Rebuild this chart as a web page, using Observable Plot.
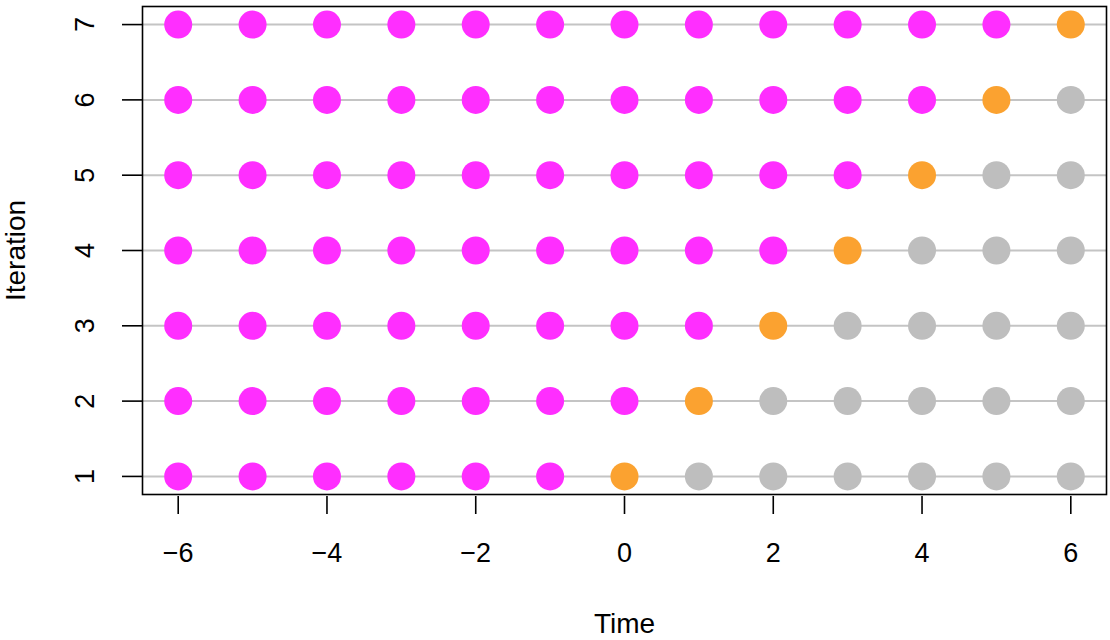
<!DOCTYPE html>
<html>
<head>
<meta charset="utf-8">
<script src="https://cdn.jsdelivr.net/npm/d3@7"></script>
<script src="https://cdn.jsdelivr.net/npm/@observablehq/plot@0.6"></script>
<style>
  html, body { margin: 0; padding: 0; background: #fff; }
  #chart svg { display: block; }
</style>
</head>
<body>
<div id="chart"></div>
<script>
// Categories
const times = [-6, -5, -4, -3, -2, -1, 0, 1, 2, 3, 4, 5, 6];
const iterations = [1, 2, 3, 4, 5, 6, 7];
const xTicks = [-6, -4, -2, 0, 2, 4, 6];
const yTicks = [1, 2, 3, 4, 5, 6, 7];
// Status of each point per iteration (P = past / magenta, C = current / orange, F = future / grey)
const status1 = ["P","P","P","P","P","P","C","F","F","F","F","F","F"];
const status2 = ["P","P","P","P","P","P","P","C","F","F","F","F","F"];
const status3 = ["P","P","P","P","P","P","P","P","C","F","F","F","F"];
const status4 = ["P","P","P","P","P","P","P","P","P","C","F","F","F"];
const status5 = ["P","P","P","P","P","P","P","P","P","P","C","F","F"];
const status6 = ["P","P","P","P","P","P","P","P","P","P","P","C","F"];
const status7 = ["P","P","P","P","P","P","P","P","P","P","P","P","C"];
const statuses = [status1, status2, status3, status4, status5, status6, status7];

const data = [];
iterations.forEach((it, i) => {
  times.forEach((t, j) => data.push({time: t, iteration: it, status: statuses[i][j]}));
});

const font = "'Liberation Sans', Arial, Helvetica, sans-serif";

const chart = Plot.plot({
  width: 1110,
  height: 640,
  marginLeft: 142,
  marginRight: 4,
  marginTop: 6,
  marginBottom: 146,
  style: {fontFamily: font, background: "#fff"},
  x: {domain: [-6.48, 6.48], axis: null},
  y: {domain: [0.76, 7.24], axis: null},
  color: {domain: ["P", "C", "F"], range: ["#ff2eff", "#fba230", "#bebebe"]},
  marks: [
    Plot.ruleY(iterations, {stroke: "#c4c4c4", strokeWidth: 2}),
    Plot.dot(data, {x: "time", y: "iteration", r: 14, fill: "status", stroke: null}),
    Plot.frame({stroke: "#000", strokeWidth: 1.6}),
    // x axis
    Plot.axisX({ticks: xTicks, label: null, tickSize: 18, tickPadding: 28, dy: 2, fontSize: 27, tickFormat: d => (d < 0 ? "\u2212" + Math.abs(d) : String(d)), stroke: "#000", strokeWidth: 1.6, fill: "#000"}),
    // y axis ticks
    Plot.axisY({ticks: yTicks, label: null, tickSize: 20, text: null, stroke: "#000", strokeWidth: 1.6}),
    Plot.text(yTicks, {y: d => d, text: d => String(d), frameAnchor: "left", dx: -57, rotate: -90, textAnchor: "middle", lineAnchor: "middle", fontSize: 27, fill: "#000"}),
    // axis titles
    Plot.text(["Time"], {frameAnchor: "bottom", dy: 130, text: d => d, lineAnchor: "middle", fontSize: 28, fill: "#000"}),
    Plot.text(["Iteration"], {frameAnchor: "left", dx: -126, rotate: -90, text: d => d, textAnchor: "middle", lineAnchor: "middle", fontSize: 28, fill: "#000"})
  ]
});
document.getElementById("chart").append(chart);
</script>
</body>
</html>
